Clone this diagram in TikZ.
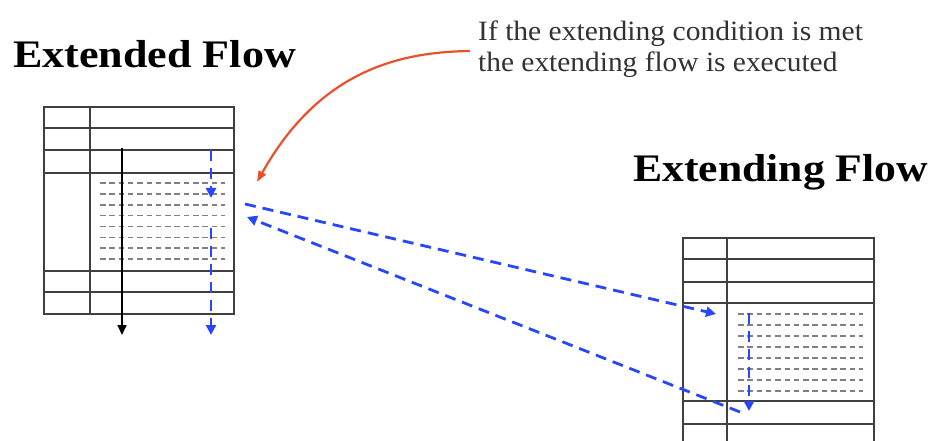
\documentclass[tikz,border=0pt]{standalone}
\usepackage{fontspec}
\setmainfont{Liberation Serif}
\usetikzlibrary{arrows.meta}
\definecolor{flowblue}{RGB}{40,70,250}
\definecolor{notered}{RGB}{235,80,45}
\definecolor{notegray}{RGB}{50,50,50}
\begin{document}
\begin{tikzpicture}[x=1pt,y=-1pt,
  tbl/.style={line width=1.7pt, draw=black!75},
  gdash/.style={draw=black!50, line width=1.6pt, dash pattern=on 5.5pt off 3.8pt},
  bflow/.style={draw=flowblue, line width=2.8pt, dash pattern=on 11pt off 7pt,
    -{Triangle[length=10pt,width=10pt]}},
  kflow/.style={draw=black, line width=1.7pt, -{Triangle[length=10pt,width=9pt]}},
  rflow/.style={draw=notered, line width=2.2pt, -{Triangle[length=11pt,width=8pt]}},
  title/.style={inner sep=0pt, anchor=base west, font=\fontsize{39}{44}\selectfont\bfseries},
  note/.style={inner sep=0pt, anchor=base west, text=notegray, font=\fontsize{28}{31}\selectfont}]
\useasboundingbox (0,0) rectangle (935,441);

% titles and note
\node[title] (tExtended) at (13,68) {\scalebox{1.13}[1]{Extended Flow}};
\node[title] (tExtending) at (633,182) {\scalebox{1.12}[1]{Extending Flow}};
\node[note] (note1) at (478,41) {\scalebox{1.055}[1]{If the extending condition is met}};
\node[note] (note2) at (478,72) {\scalebox{1.05}[1]{the extending flow is executed}};

% left table (extended flow)
\foreach \i in {0,...,7} \draw[gdash] (100,183+10.86*\i) -- (225,183+10.86*\i);
\draw[tbl] (44,107) rectangle (234,314);
\draw[tbl] (90,107) -- (90,314);
\foreach \y in {128,150,173,271,292} \draw[tbl] (44,\y) -- (234,\y);

% right table (extending flow)
\foreach \i in {0,...,7} \draw[gdash] (738,314+11*\i) -- (863,314+11*\i);
\begin{scope}
  \clip (0,0) rectangle (935,441);
  \draw[tbl] (683,450) -- (683,238) -- (874,238) -- (874,450);
  \draw[tbl] (727,238) -- (727,450);
  \foreach \y in {259,282,303,401,424} \draw[tbl] (683,\y) -- (874,\y);
\end{scope}

% coordinates
\coordinate (kS) at (122,148);
\coordinate (kE) at (122,335);
\coordinate (bS1) at (211,150);
\coordinate (bE1) at (211,198);
\coordinate (bS2) at (211,228);
\coordinate (bE2) at (211,335);
\coordinate (rS) at (749,313);
\coordinate (rE) at (749,411);
\coordinate (outS) at (245,204);
\coordinate (outE) at (716,314);
\coordinate (backS) at (740,412);
\coordinate (backE) at (247,217);
\coordinate (noteS) at (470,51);
\coordinate (noteE) at (257,182);

% flows
\draw[kflow] (kS) -- (kE);
\draw[bflow] (bS1) -- (bE1);
\draw[bflow] (bS2) -- (bE2);
\draw[bflow] (rS) -- (rE);
\draw[bflow] (outS) -- (outE);
\draw[bflow] (backS) -- (backE);
\draw[rflow] (noteS) .. controls (400,52) and (320,70) .. (noteE);
\end{tikzpicture}
\end{document}
